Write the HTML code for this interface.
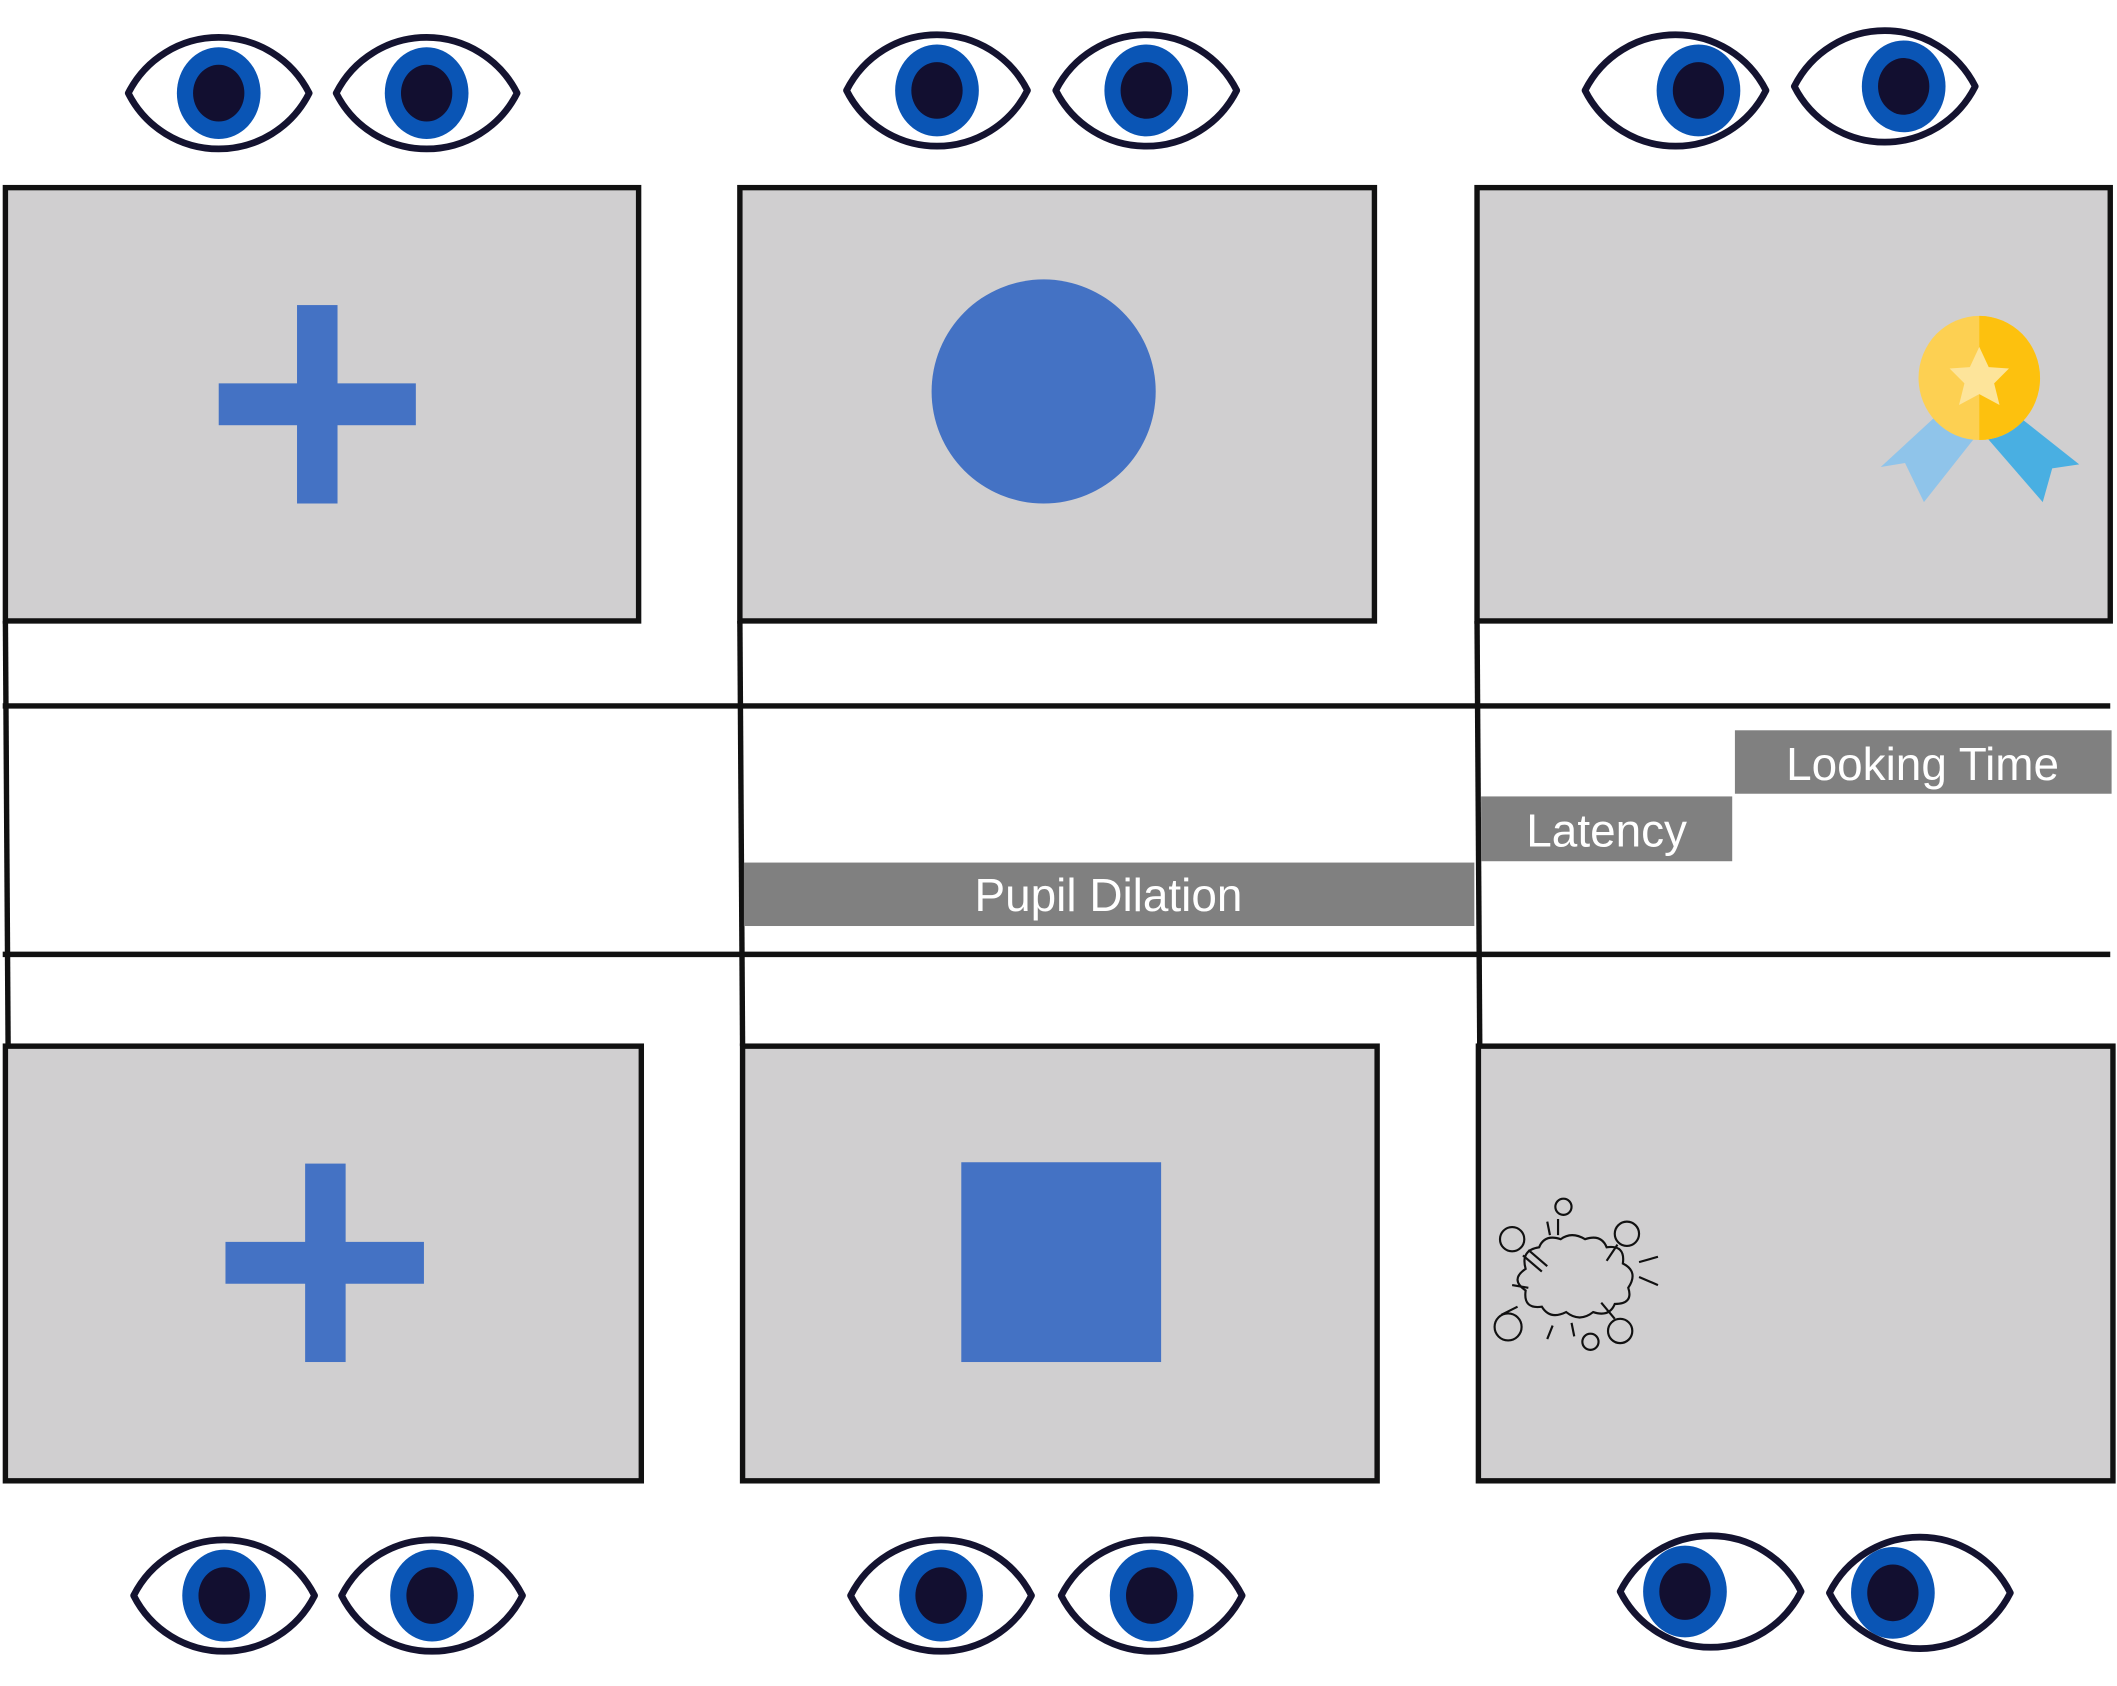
<!DOCTYPE html>
<html><head><meta charset="utf-8"><style>
html,body{margin:0;padding:0;background:#fff;width:2117px;height:1686px;overflow:hidden}
svg{display:block}
text{font-family:"Liberation Sans",sans-serif;fill:#fff;font-size:34px}
</style></head><body>
<svg id="root" width="2117" height="1686" viewBox="0 0 1568 1249" preserveAspectRatio="none">
<g id="eyes"></g>
<g stroke="#111" stroke-width="4" fill="#d0cfd0">
<rect x="4" y="139" width="469" height="321"/>
<rect x="548" y="139" width="470" height="321"/>
<rect x="1094" y="139" width="469" height="321"/>
</g>
<g stroke="#111" stroke-width="4" fill="#d0cfd0">
<rect x="4" y="775" width="471" height="322"/>
<rect x="550" y="775" width="470" height="322"/>
<rect x="1095" y="775" width="470" height="322"/>
</g>
<g stroke="#111" stroke-width="4">
<line x1="2" y1="523" x2="1563" y2="523"/>
<line x1="2" y1="707" x2="1563" y2="707"/>
<line x1="4" y1="460" x2="6" y2="775"/>
<line x1="548" y1="460" x2="550" y2="775"/>
<line x1="1094" y1="460" x2="1096" y2="775"/>
</g>
<g>
<rect x="551" y="639" width="541" height="47" fill="#808080"/>
<text x="821" y="675" text-anchor="middle">Pupil Dilation</text>
<rect x="1097" y="590" width="186" height="48" fill="#808080"/>
<text x="1190" y="627" text-anchor="middle">Latency</text>
<rect x="1285" y="541" width="279" height="47" fill="#808080"/>
<text x="1424" y="578" text-anchor="middle">Looking Time</text>
</g>
<g fill="#4472c4">
<g><rect x="220" y="226" width="30" height="147"/><rect x="162" y="284" width="146" height="31"/></g>
<circle cx="773" cy="290" r="83"/>
<rect x="712" y="861" width="148" height="148"/>
<g><rect x="226" y="862" width="30" height="147"/><rect x="167" y="920" width="147" height="31"/></g>
</g>
<g>
<path d="M1432,310 L1393,346 L1411,343 L1425,372 L1466,320 Z" fill="#8fc4ea"/>
<path d="M1492,306 L1540,344 L1520,347 L1513,372 L1468,320 Z" fill="#49afe2"/>
<ellipse cx="1466" cy="280" rx="45" ry="46" fill="#fdd052"/>
<path d="M1466,234 A45,46 0 0 1 1466,326 Z" fill="#fdc10e"/>
<path d="M1466,257 L1473,272 L1488,273 L1477,284 L1481,300 L1466,292 L1451,300 L1455,284 L1444,273 L1459,272 Z" fill="#fde49a"/>
</g>
<g fill="none" stroke="#111" stroke-width="1.6">
<path d="M1130,940 q-4,-14 10,-16 q4,-10 16,-6 q8,-6 18,0 q12,-4 16,6 q14,-2 12,12 q12,6 4,18 q4,12 -10,12 q-4,10 -16,6 q-10,8 -20,0 q-12,6 -18,-4 q-14,2 -12,-12 q-12,-8 0,-16 z"/>
<circle cx="1120" cy="918" r="9"/><circle cx="1205" cy="914" r="9"/><circle cx="1158" cy="894" r="6"/>
<circle cx="1117" cy="983" r="10"/><circle cx="1200" cy="986" r="9"/><circle cx="1178" cy="994" r="6"/>
<path d="M1128,930 l14,12 M1132,926 l14,12 M1198,922 l-8,12 M1214,935 l14,-4 M1214,946 l14,6 M1120,952 l12,2 M1124,968 l-12,6 M1146,905 l2,10 M1154,903 l0,12 M1150,982 l-4,10 M1164,980 l2,10 M1186,965 l10,12"/>
</g>
</svg>
<script>
var eyeCx=[162,316,694,849,1241,1396,166,320,697,853,1267,1422];
var eyeCy=[69,69,67,67,67,64,1182,1182,1182,1182,1179,1180];
var irisDx=[0,0,0,0,17,14,0,0,0,0,-19,-20];
var g=document.getElementById('eyes');
var ns='http://www.w3.org/2000/svg';
for(var i=0;i<eyeCx.length;i++){
 var x=eyeCx[i],y=eyeCy[i];
 var e=document.createElementNS(ns,'g');
 
 
 var p=document.createElementNS(ns,'path');
 p.setAttribute('d','M'+(x-67)+','+y+' A75,75 0 0 1 '+(x+67)+','+y+' A75,75 0 0 1 '+(x-67)+','+y+' Z');
 p.setAttribute('fill','#fff');p.setAttribute('stroke','#141330');p.setAttribute('stroke-width','5');p.setAttribute('stroke-linejoin','round');
 e.appendChild(p);
 var ir=document.createElementNS(ns,'ellipse');
 ir.setAttribute('cx',x+irisDx[i]);ir.setAttribute('cy',y);ir.setAttribute('rx',31);ir.setAttribute('ry',34);ir.setAttribute('fill','#0a55b5');
 e.appendChild(ir);
 var pu=document.createElementNS(ns,'ellipse');
 pu.setAttribute('cx',x+irisDx[i]);pu.setAttribute('cy',y);pu.setAttribute('rx',19);pu.setAttribute('ry',21);pu.setAttribute('fill','#120f30');
 e.appendChild(pu);
 g.appendChild(e);
}
</script>
</body></html>
